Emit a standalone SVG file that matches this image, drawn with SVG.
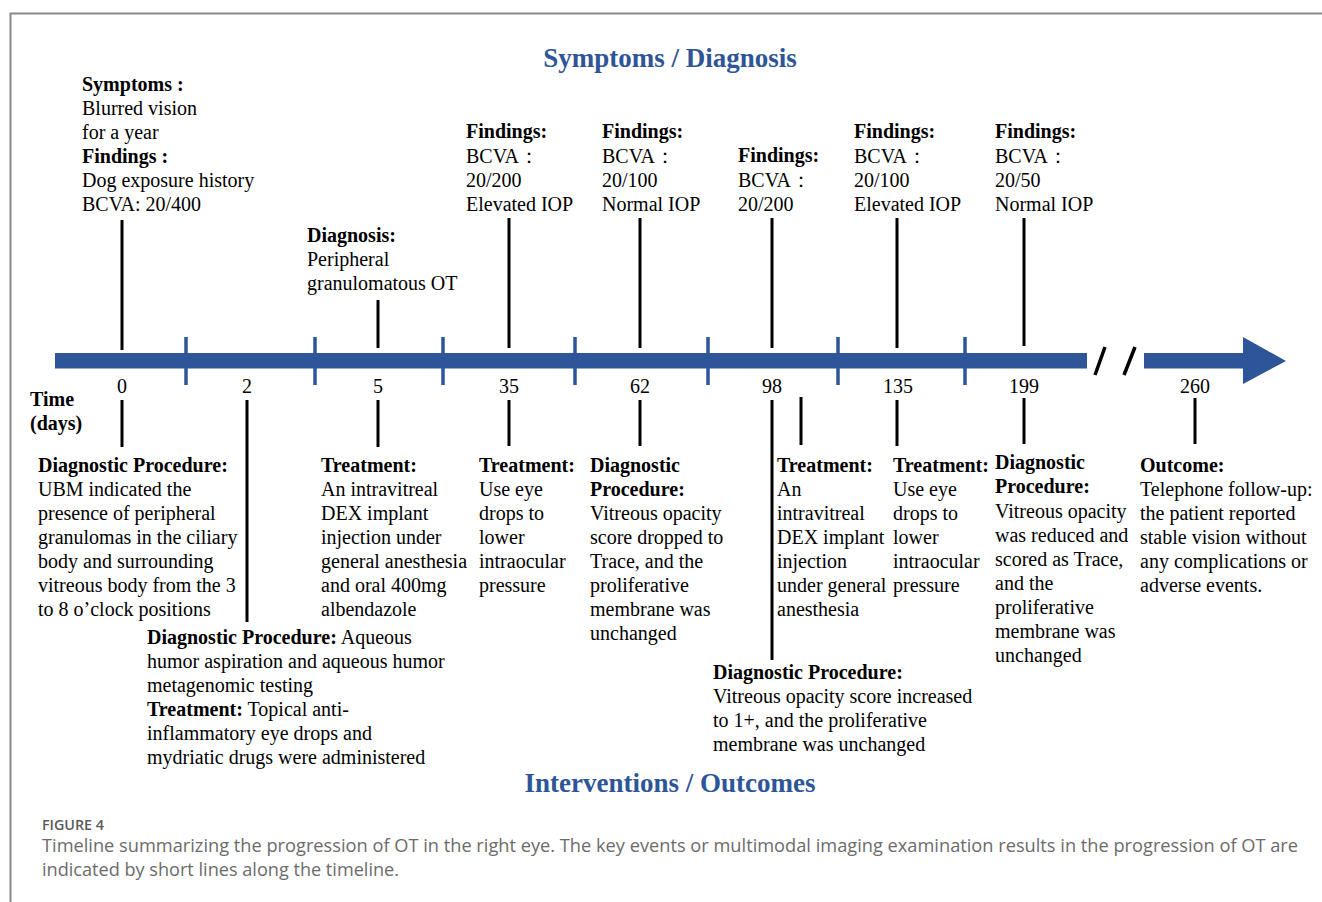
<svg xmlns="http://www.w3.org/2000/svg" width="1322" height="902" viewBox="0 0 1322 902">
<style>
.t{font-family:"Liberation Serif","Times New Roman",serif;font-size:20px;fill:#000}
.b{font-weight:bold}
.h{font-family:"Liberation Serif","Times New Roman",serif;font-size:27px;font-weight:bold;fill:#2E5597}
.n{font-family:"Liberation Serif","Times New Roman",serif;font-size:20px;fill:#000;text-anchor:middle}
.ev{stroke:#000;stroke-width:3;fill:none}
.tk{stroke:#2E5597;stroke-width:3.5;fill:none}
.cap{font-family:"Open Sans","Noto Sans",sans-serif;fill:#6b6b6b}
</style>
<rect width="1322" height="902" fill="#fff"/>
<path d="M10.5,902 V13.5 H1322" fill="none" stroke="#8a8a8a" stroke-width="2"/>

<g id="axis">
<rect x="55" y="353" width="1032" height="15.5" fill="#2E5597"/>
<rect x="1144" y="353" width="100" height="15.5" fill="#2E5597"/>
<polygon points="1243,337 1286,361 1243,384" fill="#2E5597"/>
<g class="tk">
<line x1="186" y1="337" x2="186" y2="385"/>
<line x1="315" y1="337" x2="315" y2="385"/>
<line x1="443" y1="337" x2="443" y2="385"/>
<line x1="575" y1="337" x2="575" y2="385"/>
<line x1="708" y1="337" x2="708" y2="385"/>
<line x1="838" y1="337" x2="838" y2="385"/>
<line x1="965" y1="337" x2="965" y2="385"/>
</g>
<g stroke="#000" stroke-width="3.5">
<line x1="1095" y1="375" x2="1105" y2="347"/>
<line x1="1124" y1="375" x2="1135" y2="347"/>
</g>
<g class="n">
<text x="122" y="393">0</text>
<text x="247" y="393">2</text>
<text x="378" y="393">5</text>
<text x="509" y="393">35</text>
<text x="640" y="393">62</text>
<text x="772" y="393">98</text>
<text x="898" y="393">135</text>
<text x="1024" y="393">199</text>
<text x="1195" y="393">260</text>
</g>
<text class="t b" x="30" y="406">Time</text>
<text class="t b" x="30" y="430">(days)</text>
</g>

<g id="connectors" class="ev">
<line x1="122" y1="220" x2="122" y2="350"/>
<line x1="378" y1="300" x2="378" y2="348"/>
<line x1="509" y1="218" x2="509" y2="348"/>
<line x1="640" y1="218" x2="640" y2="348"/>
<line x1="772" y1="218" x2="772" y2="348"/>
<line x1="897" y1="218" x2="897" y2="348"/>
<line x1="1024" y1="218" x2="1024" y2="346"/>
<line x1="122" y1="400" x2="122" y2="447"/>
<line x1="247" y1="400" x2="247" y2="622"/>
<line x1="378" y1="400" x2="378" y2="447"/>
<line x1="509" y1="400" x2="509" y2="446"/>
<line x1="640" y1="400" x2="640" y2="446"/>
<line x1="772" y1="400" x2="772" y2="660"/>
<line x1="801" y1="397" x2="801" y2="445"/>
<line x1="897" y1="400" x2="897" y2="446"/>
<line x1="1024" y1="398" x2="1024" y2="444"/>
<line x1="1195" y1="398" x2="1195" y2="444"/>
</g>

<text id="title-top" class="h" x="670" y="67" text-anchor="middle">Symptoms / Diagnosis</text>
<text id="title-bottom" class="h" x="670" y="792" text-anchor="middle">Interventions / Outcomes</text>

<g id="day0-top" class="t">
<text x="82" y="91" class="b">Symptoms :</text>
<text x="82" y="115">Blurred vision</text>
<text x="82" y="139">for a year</text>
<text x="82" y="163" class="b">Findings :</text>
<text x="82" y="187">Dog exposure history</text>
<text x="82" y="211">BCVA: 20/400</text>
</g>
<g id="day5-top" class="t">
<text x="307" y="242" class="b">Diagnosis:</text>
<text x="307" y="266">Peripheral</text>
<text x="307" y="290">granulomatous OT</text>
</g>
<g id="day35-top" class="t">
<text x="466" y="138" class="b">Findings:</text>
<text x="466" y="163">BCVA：</text>
<text x="466" y="187">20/200</text>
<text x="466" y="211">Elevated IOP</text>
</g>
<g id="day62-top" class="t">
<text x="602" y="138" class="b">Findings:</text>
<text x="602" y="163">BCVA：</text>
<text x="602" y="187">20/100</text>
<text x="602" y="211">Normal IOP</text>
</g>
<g id="day98-top" class="t">
<text x="738" y="162" class="b">Findings:</text>
<text x="738" y="187">BCVA：</text>
<text x="738" y="211">20/200</text>
</g>
<g id="day135-top" class="t">
<text x="854" y="138" class="b">Findings:</text>
<text x="854" y="163">BCVA：</text>
<text x="854" y="187">20/100</text>
<text x="854" y="211">Elevated IOP</text>
</g>
<g id="day199-top" class="t">
<text x="995" y="138" class="b">Findings:</text>
<text x="995" y="163">BCVA：</text>
<text x="995" y="187">20/50</text>
<text x="995" y="211">Normal IOP</text>
</g>

<g id="day0-bottom" class="t">
<text x="38" y="472" class="b">Diagnostic Procedure:</text>
<text x="38" y="496">UBM indicated the</text>
<text x="38" y="520">presence of peripheral</text>
<text x="38" y="544">granulomas in the ciliary</text>
<text x="38" y="568">body and surrounding</text>
<text x="38" y="592">vitreous body from the 3</text>
<text x="38" y="616">to 8 o’clock positions</text>
</g>
<g id="day2-bottom" class="t">
<text x="147" y="644"><tspan class="b">Diagnostic Procedure:</tspan> Aqueous</text>
<text x="147" y="668">humor aspiration and aqueous humor</text>
<text x="147" y="692">metagenomic testing</text>
<text x="147" y="716"><tspan class="b">Treatment:</tspan> Topical anti-</text>
<text x="147" y="740">inflammatory eye drops and</text>
<text x="147" y="764">mydriatic drugs were administered</text>
</g>
<g id="day5-bottom" class="t">
<text x="321" y="472" class="b">Treatment:</text>
<text x="321" y="496">An intravitreal</text>
<text x="321" y="520">DEX implant</text>
<text x="321" y="544">injection under</text>
<text x="321" y="568">general anesthesia</text>
<text x="321" y="592">and oral 400mg</text>
<text x="321" y="616">albendazole</text>
</g>
<g id="day35-bottom" class="t">
<text x="479" y="472" class="b">Treatment:</text>
<text x="479" y="496">Use eye</text>
<text x="479" y="520">drops to</text>
<text x="479" y="544">lower</text>
<text x="479" y="568">intraocular</text>
<text x="479" y="592">pressure</text>
</g>
<g id="day62-bottom" class="t">
<text x="590" y="472" class="b">Diagnostic</text>
<text x="590" y="496" class="b">Procedure:</text>
<text x="590" y="520">Vitreous opacity</text>
<text x="590" y="544">score dropped to</text>
<text x="590" y="568">Trace, and the</text>
<text x="590" y="592">proliferative</text>
<text x="590" y="616">membrane was</text>
<text x="590" y="640">unchanged</text>
</g>
<g id="day98-bottom" class="t">
<text x="713" y="679" class="b">Diagnostic Procedure:</text>
<text x="713" y="703">Vitreous opacity score increased</text>
<text x="713" y="727">to 1+, and the proliferative</text>
<text x="713" y="751">membrane was unchanged</text>
</g>
<g id="day100-bottom" class="t">
<text x="777" y="472" class="b">Treatment:</text>
<text x="777" y="496">An</text>
<text x="777" y="520">intravitreal</text>
<text x="777" y="544">DEX implant</text>
<text x="777" y="568">injection</text>
<text x="777" y="592">under general</text>
<text x="777" y="616">anesthesia</text>
</g>
<g id="day135-bottom" class="t">
<text x="893" y="472" class="b">Treatment:</text>
<text x="893" y="496">Use eye</text>
<text x="893" y="520">drops to</text>
<text x="893" y="544">lower</text>
<text x="893" y="568">intraocular</text>
<text x="893" y="592">pressure</text>
</g>
<g id="day199-bottom" class="t">
<text x="995" y="469" class="b">Diagnostic</text>
<text x="995" y="493" class="b">Procedure:</text>
<text x="995" y="518">Vitreous opacity</text>
<text x="995" y="542">was reduced and</text>
<text x="995" y="566">scored as Trace,</text>
<text x="995" y="590">and the</text>
<text x="995" y="614">proliferative</text>
<text x="995" y="638">membrane was</text>
<text x="995" y="662">unchanged</text>
</g>
<g id="day260-bottom" class="t">
<text x="1140" y="472" class="b">Outcome:</text>
<text x="1140" y="496">Telephone follow-up:</text>
<text x="1140" y="520">the patient reported</text>
<text x="1140" y="544">stable vision without</text>
<text x="1140" y="568">any complications or</text>
<text x="1140" y="592">adverse events.</text>
</g>

<g id="caption" class="cap">
<text x="42" y="830" font-size="14" font-weight="600" fill="#5a5a5a" textLength="62" lengthAdjust="spacingAndGlyphs">FIGURE 4</text>
<text x="42" y="852" font-size="17.5" textLength="1256" lengthAdjust="spacingAndGlyphs">Timeline summarizing the progression of OT in the right eye. The key events or multimodal imaging examination results in the progression of OT are</text>
<text x="42" y="876" font-size="17.5" textLength="357" lengthAdjust="spacingAndGlyphs">indicated by short lines along the timeline.</text>
</g>
</svg>
